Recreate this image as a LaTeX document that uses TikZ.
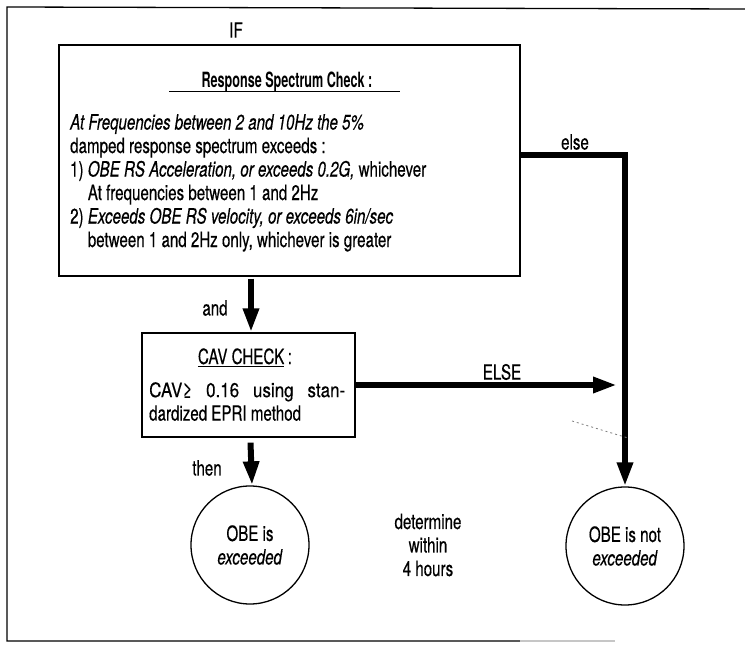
\documentclass[tikz,border=0pt]{standalone}
\usepackage{fontspec}
\setmainfont{TeX Gyre Heros}[FakeStretch=0.72, FakeBold=0.4]
\newfontfamily\widefont{TeX Gyre Heros}[FakeStretch=0.85, FakeBold=0.4]
\newfontfamily\titlefont{TeX Gyre Heros}[FakeStretch=0.6]
\usetikzlibrary{arrows.meta,positioning}

\tikzset{
  thinbox/.style={draw, line width=1.3pt, inner sep=0pt},
  thickline/.style={line width=6pt, line join=miter},
  flowarrow/.style={thickline, -{Triangle[length=24pt,width=15pt]}},
  endcircle/.style={draw, circle, line width=1.3pt, minimum size=118pt, inner sep=0pt, align=center},
  lbl/.style={inner sep=0pt}
}

\begin{document}
\begin{tikzpicture}[x=1pt, y=-1pt, font=\fontsize{21}{23.5}\selectfont]
\useasboundingbox[fill=white] (0,0) rectangle (745,647);

% frame of the page
\draw[line width=1.3pt] (745,9) -- (7,7) -- (7,641) -- (520,641);
\draw[line width=1.3pt, gray!45] (520,641) -- (615,641);

\node[lbl] (iflbl) at (236,30) {IF};

% response spectrum check
\node[thinbox, minimum width=461pt, minimum height=231pt] (spec) at (289.5,160.5) {};
\node[lbl, anchor=base, font=\fontsize{21}{23.5}\titlefont\bfseries] (spectitle) at (287,88) {Response Spectrum Check :};
\draw[line width=1pt] (169,92) coordinate (ulA) -- (400,92) coordinate (ulB);
\node[lbl, anchor=north west, align=left] (spectext) at (70,114) {%
\textit{At Frequencies between 2 and 10Hz the 5\%}\\
damped response spectrum exceeds :\\
1) \textit{OBE RS Acceleration, or exceeds 0.2G,} whichever\\
\hphantom{1) }At frequencies between 1 and 2Hz\\
2) \textit{Exceeds OBE RS velocity, or exceeds 6in/sec}\\
\hphantom{2) }between 1 and 2Hz only, whichever is greater};

% CAV check
\node[thinbox, minimum width=213pt, minimum height=104pt] (cav) at (248.5,385) {};
\node[lbl, anchor=base] (cavtitle) at (245,364) {\underline{CAV CHECK}\,:};
\node[lbl, anchor=north west, align=left] (cavtext) at (149,382) {%
{\widefont\fontsize{20}{23.5}\selectfont\makebox[196pt][s]{CAV≥ 0.16 using stan-}}\\
dardized EPRI method};

% outcomes
\node[endcircle] (exc) at (250,545) {OBE is\\\textit{exceeded}};
\node[endcircle] (notexc) at (625,546) {OBE is not\\\textit{exceeded}};
\node[lbl, align=center] (within) at (428,545) {determine\\within\\4 hours};

% connectors
\coordinate (elsecorner) at (625,155);
\coordinate (elsetip) at (617,385);
\draw[flowarrow] ([yshift=5.5pt]spec.east) -- (elsecorner) -- (notexc.north);
\draw[flowarrow] (cav.north |- spec.south) ++(2.5,2) -- ([xshift=2.5pt]cav.north);
\draw[flowarrow] ([xshift=2pt,yshift=-5pt]cav.south) -- ([xshift=2pt]exc.north);
\draw[flowarrow] (cav.east) -- (elsetip);

\node[lbl] (elselbl) at (575,142) {else};
\node[lbl] (andlbl) at (215,308) {and};
\node[lbl] (ELSElbl) at (502,372) {ELSE};
\node[lbl] (thenlbl) at (207,468) {then};

% stray mark on the original
\coordinate (markA) at (572,421);
\coordinate (markB) at (628,438);
\draw[gray, line width=0.8pt, dash pattern=on 2pt off 3pt] (markA) -- (markB);
\end{tikzpicture}
\end{document}
